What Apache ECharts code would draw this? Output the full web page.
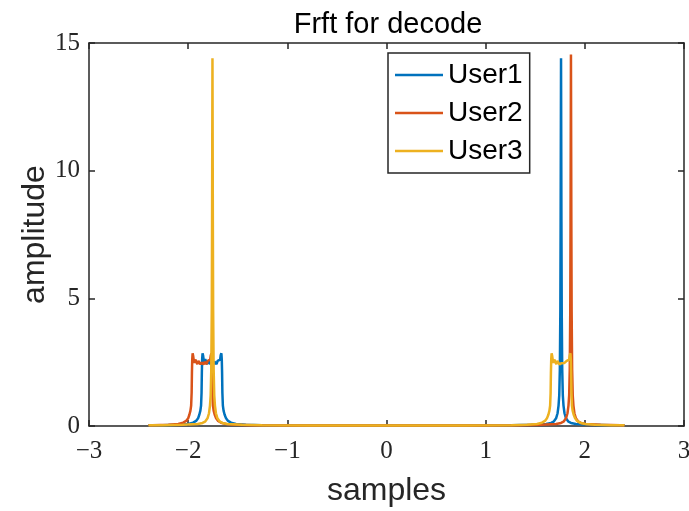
<!DOCTYPE html>
<html>
<head>
<meta charset="utf-8">
<script src="https://cdn.jsdelivr.net/npm/echarts@6/dist/echarts.min.js"></script>
<style>
html,body{margin:0;padding:0;background:#fff;}
#chart{width:689px;height:511px;}
</style>
</head>
<body>
<div id="chart"></div>
<script>
const titleText = 'Frft for decode';
const xLabel = 'samples';
const yLabel = 'amplitude';
const seriesNames = ['User1', 'User2', 'User3'];
const xTicks = { min: -3, max: 3, interval: 1 };
const yTicks = { min: 0, max: 15, interval: 5 };

// User1: plateau near -1.76, spike at +1.76
const user1 = [
  [-2.40,0.02],[-2.26,0.03],[-2.10,0.05],[-2.00,0.08],[-1.95,0.13],[-1.92,0.2],[-1.90,0.3],
  [-1.887,0.45],[-1.877,0.6],[-1.870,0.8],[-1.865,1.3],[-1.862,2.1],[-1.859,2.6],[-1.855,2.85],
  [-1.850,2.77],[-1.844,2.6],[-1.837,2.48],[-1.828,2.62],[-1.818,2.55],[-1.807,2.42],[-1.797,2.56],
  [-1.787,2.5],[-1.776,2.42],[-1.766,2.5],[-1.755,2.47],[-1.745,2.42],[-1.735,2.52],[-1.725,2.48],
  [-1.714,2.42],[-1.703,2.55],[-1.693,2.62],[-1.685,2.48],[-1.678,2.6],[-1.672,2.77],[-1.665,2.85],
  [-1.661,2.6],[-1.658,2.1],[-1.655,1.3],[-1.650,0.8],[-1.643,0.6],[-1.633,0.45],[-1.618,0.3],
  [-1.598,0.2],[-1.568,0.13],[-1.518,0.08],[-1.418,0.05],[-1.258,0.03],[-0.8,0.02],[0,0.015],
  [0.8,0.02],[1.26,0.03],[1.46,0.045],[1.61,0.08],[1.66,0.12],[1.685,0.17],[1.71,0.3],[1.725,0.5],
  [1.735,0.8],[1.742,1.2],[1.748,2.2],[1.753,4.5],[1.756,8],[1.76,14.4],[1.764,8],[1.767,4.5],
  [1.772,2.2],[1.778,1.2],[1.785,0.8],[1.795,0.5],[1.81,0.3],[1.835,0.17],[1.86,0.12],[1.91,0.08],
  [2.06,0.045],[2.26,0.03],[2.40,0.025]
];

// User2: plateau near -1.86, spike at +1.86
const user2 = [
  [-2.40,0.025],[-2.36,0.03],[-2.20,0.05],[-2.10,0.08],[-2.05,0.13],[-2.02,0.2],[-2.00,0.3],
  [-1.987,0.45],[-1.977,0.6],[-1.970,0.8],[-1.965,1.3],[-1.962,2.1],[-1.959,2.6],[-1.955,2.85],
  [-1.950,2.75],[-1.944,2.58],[-1.937,2.47],[-1.928,2.6],[-1.918,2.54],[-1.907,2.42],[-1.897,2.55],
  [-1.887,2.49],[-1.876,2.41],[-1.866,2.49],[-1.855,2.46],[-1.845,2.41],[-1.835,2.51],[-1.825,2.47],
  [-1.814,2.42],[-1.803,2.55],[-1.793,2.6],[-1.785,2.48],[-1.778,2.6],[-1.772,2.76],[-1.766,2.85],
  [-1.762,2.6],[-1.758,2.1],[-1.755,1.3],[-1.750,0.8],[-1.743,0.6],[-1.733,0.45],[-1.718,0.3],
  [-1.698,0.2],[-1.668,0.13],[-1.618,0.08],[-1.518,0.05],[-1.358,0.03],[-0.9,0.02],[0,0.015],
  [0.9,0.02],[1.36,0.03],[1.56,0.045],[1.71,0.08],[1.76,0.12],[1.785,0.17],[1.81,0.3],[1.825,0.5],
  [1.835,0.8],[1.842,1.2],[1.848,2.2],[1.853,4.5],[1.856,8],[1.86,14.55],[1.864,8],[1.867,4.5],
  [1.872,2.2],[1.878,1.2],[1.885,0.8],[1.895,0.5],[1.91,0.3],[1.935,0.17],[1.96,0.12],[2.01,0.08],
  [2.16,0.045],[2.36,0.03],[2.40,0.028]
];

// User3: spike at -1.755, plateau near +1.76
const user3 = [
  [-2.40,0.025],[-2.255,0.03],[-2.055,0.045],[-1.905,0.08],[-1.855,0.12],[-1.83,0.17],[-1.805,0.3],
  [-1.79,0.5],[-1.78,0.8],[-1.773,1.2],[-1.767,2.2],[-1.762,4.5],[-1.759,8],[-1.755,14.4],
  [-1.751,8],[-1.748,4.5],[-1.743,2.2],[-1.737,1.2],[-1.730,0.8],[-1.72,0.5],[-1.705,0.3],
  [-1.68,0.17],[-1.655,0.12],[-1.605,0.08],[-1.455,0.045],[-1.255,0.03],[-0.8,0.02],[0,0.015],
  [0.8,0.02],[1.258,0.03],[1.418,0.05],[1.518,0.08],[1.568,0.13],[1.598,0.2],[1.618,0.3],
  [1.633,0.45],[1.643,0.6],[1.650,0.8],[1.655,1.3],[1.658,2.1],[1.661,2.6],[1.665,2.85],
  [1.670,2.76],[1.676,2.6],[1.683,2.47],[1.692,2.6],[1.702,2.54],[1.713,2.42],[1.723,2.55],
  [1.733,2.49],[1.744,2.41],[1.754,2.48],[1.765,2.46],[1.775,2.41],[1.785,2.5],[1.795,2.47],
  [1.806,2.42],[1.817,2.55],[1.827,2.6],[1.835,2.48],[1.842,2.6],[1.848,2.76],[1.855,2.85],
  [1.859,2.6],[1.862,2.1],[1.865,1.3],[1.870,0.8],[1.877,0.6],[1.887,0.45],[1.902,0.3],
  [1.922,0.2],[1.952,0.13],[2.002,0.08],[2.102,0.05],[2.262,0.03],[2.40,0.025]
];

const colors = ['#0072BD', '#D95319', '#EDB120'];
const axisColor = '#262626';
const sans = "'Liberation Sans', Arial, Helvetica, sans-serif";
const serif = "'Liberation Serif', 'DejaVu Serif', serif";
const minusFmt = v => String(v).replace('-', '\u2212');

const chart = echarts.init(document.getElementById('chart'), null, {renderer: 'canvas'});
const commonLine = { show: true, onZero: false, lineStyle: { color: axisColor, width: 1.5 } };
const commonTick = { show: true, inside: true, length: 6, lineStyle: { color: axisColor, width: 1.5 } };

chart.setOption({
  animation: false,
  backgroundColor: '#fff',
  color: colors,
  title: {
    text: titleText, left: 383, textAlign: 'center', top: 5,
    textStyle: { fontFamily: sans, fontSize: 29, fontWeight: 'normal', color: '#000' }
  },
  grid: { left: 89, right: 5, top: 43, bottom: 85, containLabel: false, outerBoundsMode: 'none' },
  legend: {
    data: seriesNames, orient: 'vertical', left: 388, top: 53,
    icon: 'rect', itemWidth: 48, itemHeight: 2.5, itemGap: 10, itemTextGap: 5,
    padding: [8, 7, 8, 7],
    borderColor: axisColor, borderWidth: 1.5, backgroundColor: '#fff',
    textStyle: { fontFamily: sans, fontSize: 28, color: '#000', lineHeight: 28 }
  },
  xAxis: [
    { type: 'value', min: xTicks.min, max: xTicks.max, interval: xTicks.interval,
      name: xLabel, nameLocation: 'middle', nameGap: 49, nameMoveOverlap: false,
      nameTextStyle: { fontFamily: sans, fontSize: 32, color: axisColor },
      axisLine: commonLine, axisTick: commonTick, splitLine: { show: false },
      axisLabel: { fontFamily: serif, fontSize: 25, color: axisColor, margin: 13, formatter: minusFmt } },
    { type: 'value', position: 'top', min: xTicks.min, max: xTicks.max, interval: xTicks.interval,
      axisLine: commonLine, axisTick: commonTick, splitLine: { show: false }, axisLabel: { show: false } }
  ],
  yAxis: [
    { type: 'value', min: yTicks.min, max: yTicks.max, interval: yTicks.interval,
      name: yLabel, nameLocation: 'middle', nameGap: 38, nameRotate: 90, nameMoveOverlap: false,
      nameTextStyle: { fontFamily: sans, fontSize: 32, color: axisColor },
      axisLine: commonLine, axisTick: commonTick, splitLine: { show: false },
      axisLabel: { fontFamily: serif, fontSize: 25, color: axisColor, margin: 9 } },
    { type: 'value', position: 'right', min: yTicks.min, max: yTicks.max, interval: yTicks.interval,
      axisLine: commonLine, axisTick: commonTick, splitLine: { show: false }, axisLabel: { show: false } }
  ],
  series: [user1, user2, user3].map((d, i) => ({
    name: seriesNames[i], type: 'line', data: d, xAxisIndex: 0, yAxisIndex: 0,
    symbol: 'none', smooth: false, lineStyle: { width: 2.5, color: colors[i] },
    itemStyle: { color: colors[i] }
  }))
});
</script>
</body>
</html>
